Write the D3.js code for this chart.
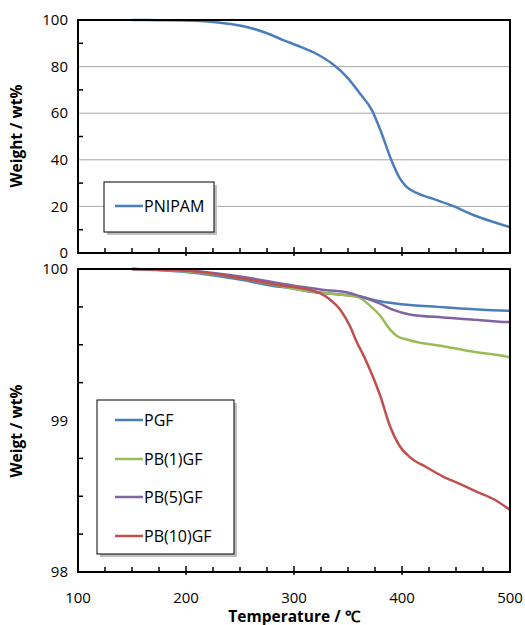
<!DOCTYPE html>
<html>
<head>
<meta charset="utf-8">
<script src="https://cdn.jsdelivr.net/npm/d3@7"></script>
<style>
  body { margin: 0; background: #fff; }
  svg { display: block; font-family: "Open Sans", sans-serif; }
  .tick-label { font-size: 15px; fill: #000; }
  .axis-title { font-size: 15.5px; font-weight: bold; fill: #000; }
  .legend-text { font-size: 16px; fill: #000; }
</style>
</head>
<body>
<div id="chart"></div>
<script>
(function () {
  "use strict";

  // top panel: PNIPAM weight loss
  const pnipamTemp = [150, 175, 200, 213, 230, 244, 259, 275, 290, 306, 321, 336, 349, 361, 372, 381, 390, 398, 404, 413, 429, 447, 466, 484, 500];
  const pnipamWeight = [100, 99.9, 99.8, 99.6, 98.9, 98.1, 96.7, 94.3, 91.4, 88.5, 85.4, 81.0, 75.5, 68.5, 61.4, 51.5, 40.0, 32.0, 28.5, 25.9, 23.2, 20.2, 16.3, 13.4, 11.1];

  // bottom panel: composites
  const pgfTemp = [150, 200, 250, 280, 300, 315, 330, 345, 360, 377, 410, 433, 454, 498, 500];
  const pgfWeight = [100, 99.98, 99.93, 99.89, 99.87, 99.85, 99.84, 99.83, 99.82, 99.79, 99.76, 99.75, 99.74, 99.725, 99.725];

  const pb1Temp = [150, 200, 250, 300, 330, 345, 355, 361, 370, 380, 389, 395, 407, 438, 469, 498, 500];
  const pb1Weight = [100, 99.985, 99.94, 99.87, 99.84, 99.83, 99.82, 99.81, 99.76, 99.69, 99.6, 99.56, 99.53, 99.49, 99.45, 99.42, 99.415];

  const pb5Temp = [150, 200, 250, 300, 315, 330, 346, 361, 377, 392, 407, 438, 469, 498, 500];
  const pb5Weight = [100, 99.99, 99.95, 99.89, 99.875, 99.86, 99.85, 99.82, 99.78, 99.73, 99.7, 99.68, 99.665, 99.65, 99.65];

  const pb10Temp = [150, 200, 250, 290, 310, 324, 333, 343, 352, 358, 365, 380, 389, 398, 407, 423, 438, 454, 469, 485, 498, 500];
  const pb10Weight = [100, 99.99, 99.94, 99.89, 99.87, 99.84, 99.8, 99.73, 99.62, 99.52, 99.42, 99.16, 98.96, 98.83, 98.76, 98.69, 98.63, 98.58, 98.53, 98.48, 98.42, 98.41];

  const xTicks = [100, 200, 300, 400, 500];
  const topYTicks = [0, 20, 40, 60, 80, 100];
  const bottomYTicks = [98, 99, 100];

  const seriesNames = ["PGF", "PB(1)GF", "PB(5)GF", "PB(10)GF"];
  const seriesColors = ["#4a7ebb", "#9bbb59", "#8064a2", "#c0504d"];

  const zip = (xs, ys) => xs.map((t, i) => ({ t, w: ys[i] }));
  const bottomSeries = [
    zip(pgfTemp, pgfWeight),
    zip(pb1Temp, pb1Weight),
    zip(pb5Temp, pb5Weight),
    zip(pb10Temp, pb10Weight)
  ];

  const width = 525, height = 625;
  const left = 78, right = 510;

  const svg = d3.select("#chart").append("svg")
    .attr("width", width)
    .attr("height", height);

  const x = d3.scaleLinear().domain([100, 500]).range([left, right]);
  const yTop = d3.scaleLinear().domain([0, 100]).range([253, 20]);
  const yBot = d3.scaleLinear().domain([98, 100]).range([572, 269]);

  const defs = svg.append("defs");
  const addClip = (id, y) => {
    defs.append("clipPath").attr("id", id)
      .append("rect")
      .attr("x", left).attr("y", y.range()[1] - 2)
      .attr("width", right - left).attr("height", y.range()[0] - y.range()[1] + 2);
  };
  addClip("clip-top", yTop);
  addClip("clip-bot", yBot);

  // gridlines (top panel only)
  svg.append("g")
    .selectAll("line")
    .data([20, 40, 60, 80])
    .join("line")
    .attr("x1", left).attr("x2", right)
    .attr("y1", yTop).attr("y2", yTop)
    .attr("stroke", "#a6a6a6")
    .attr("stroke-width", 1);

  const line = (y) => d3.line()
    .x((d) => x(d.t))
    .y((d) => y(d.w))
    .curve(d3.curveMonotoneX);

  // data lines
  svg.append("path")
    .datum(zip(pnipamTemp, pnipamWeight))
    .attr("clip-path", "url(#clip-top)")
    .attr("fill", "none")
    .attr("stroke", seriesColors[0])
    .attr("stroke-width", 2.5)
    .attr("d", line(yTop));

  svg.append("g")
    .attr("clip-path", "url(#clip-bot)")
    .selectAll("path")
    .data(bottomSeries)
    .join("path")
    .attr("fill", "none")
    .attr("stroke", (_, i) => seriesColors[i])
    .attr("stroke-width", 2.5)
    .attr("d", line(yBot));

  // axes: frame + inward ticks
  const drawFrame = (y, minorY, showX) => {
    const g = svg.append("g");
    const y0 = y.range()[0], y1 = y.range()[1];

    // x ticks every 25 at bottom, pointing up
    g.append("g")
      .selectAll("line")
      .data(d3.range(125, 500, 25))
      .join("line")
      .attr("x1", x).attr("x2", x)
      .attr("y1", y0)
      .attr("y2", (d) => y0 - (d % 100 === 0 ? 6 : 5))
      .attr("stroke", "#000").attr("stroke-width", 1.5);

    g.append("g")
      .selectAll("line")
      .data(d3.range(125, 500, 25).filter((d) => d % 100 === 0))
      .join("line")
      .attr("x1", x).attr("x2", x)
      .attr("y1", y0).attr("y2", y0 + 3)
      .attr("stroke", "#000").attr("stroke-width", 1.5);

    // minor y ticks pointing right
    g.append("g")
      .selectAll("line")
      .data(minorY)
      .join("line")
      .attr("x1", left).attr("x2", left + 5)
      .attr("y1", y).attr("y2", y)
      .attr("stroke", "#000").attr("stroke-width", 1.5);

    g.append("rect")
      .attr("x", left).attr("y", y1)
      .attr("width", right - left).attr("height", y0 - y1)
      .attr("fill", "none")
      .attr("stroke", "#000")
      .attr("stroke-width", 2);

    if (showX) {
      g.append("g")
        .selectAll("text")
        .data(xTicks)
        .join("text")
        .attr("class", "tick-label")
        .attr("x", x)
        .attr("y", y0 + 31)
        .attr("text-anchor", "middle")
        .text((d) => d);
    }
  };

  drawFrame(yTop, [10, 30, 50, 70, 90], false);
  drawFrame(yBot, [98.25, 98.5, 98.75, 99.25, 99.5, 99.75], true);

  // y tick labels
  svg.append("g")
    .selectAll("text")
    .data(topYTicks)
    .join("text")
    .attr("class", "tick-label")
    .attr("x", 68)
    .attr("y", yTop)
    .attr("dy", "0.35em")
    .attr("text-anchor", "end")
    .text((d) => d);

  svg.append("g")
    .selectAll("text")
    .data(bottomYTicks)
    .join("text")
    .attr("class", "tick-label")
    .attr("x", 68)
    .attr("y", yBot)
    .attr("dy", "0.35em")
    .attr("text-anchor", "end")
    .text((d) => d);

  // axis titles
  svg.append("text")
    .attr("class", "axis-title")
    .attr("transform", "translate(22,136) rotate(-90)")
    .attr("text-anchor", "middle")
    .text("Weight / wt%");

  svg.append("text")
    .attr("class", "axis-title")
    .attr("transform", "translate(22,431) rotate(-90)")
    .attr("text-anchor", "middle")
    .text("Weigt / wt%");

  svg.append("text")
    .attr("class", "axis-title")
    .attr("x", (left + right) / 2)
    .attr("y", 622)
    .attr("text-anchor", "middle")
    .text("Temperature / \u2103");

  // legends
  const drawLegend = (bx, by, bw, bh, items, rowY) => {
    const g = svg.append("g");
    g.append("rect")
      .attr("x", bx + 3).attr("y", by + 3)
      .attr("width", bw).attr("height", bh)
      .attr("fill", "#bfbfbf");
    g.append("rect")
      .attr("x", bx).attr("y", by)
      .attr("width", bw).attr("height", bh)
      .attr("fill", "#fff")
      .attr("stroke", "#000")
      .attr("stroke-width", 1);
    const rows = g.selectAll("g.row")
      .data(items)
      .join("g")
      .attr("class", "row")
      .attr("transform", (_, i) => `translate(0,${rowY[i]})`);
    rows.append("line")
      .attr("x1", 115).attr("x2", 143)
      .attr("stroke", (d) => d.color)
      .attr("stroke-width", 2.5);
    rows.append("text")
      .attr("class", "legend-text")
      .attr("x", 144)
      .attr("dy", "0.35em")
      .text((d) => d.name);
  };

  drawLegend(104, 182, 110, 50, [{ name: "PNIPAM", color: seriesColors[0] }], [206]);
  drawLegend(97, 400, 137, 154,
    seriesNames.map((name, i) => ({ name, color: seriesColors[i] })),
    [420, 459, 497, 536]);
})();
</script>
</body>
</html>
